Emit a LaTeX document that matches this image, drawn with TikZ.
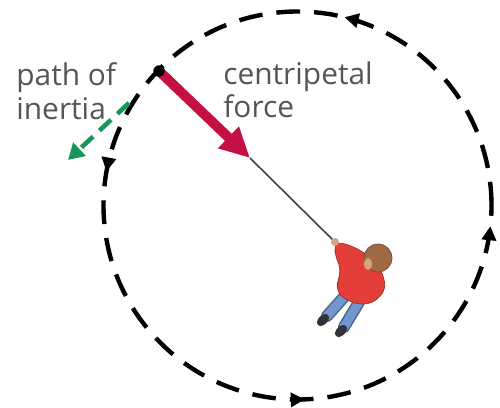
\documentclass[tikz,border=0pt]{standalone}
\usepackage{fontspec}
\setmainfont{Open Sans}
\usetikzlibrary{arrows.meta,decorations.markings}
\definecolor{forcered}{RGB}{196,16,66}
\definecolor{inertiagreen}{RGB}{22,150,92}
\definecolor{labelgray}{RGB}{85,85,85}
\definecolor{shirt}{RGB}{228,62,56}
\definecolor{jeans}{RGB}{112,150,205}
\definecolor{hair}{RGB}{160,105,70}
\definecolor{skin}{RGB}{210,165,125}
\definecolor{shoe}{RGB}{50,50,55}
\begin{document}
\begin{tikzpicture}[x=0.02cm,y=-0.02cm,
  orbit/.style={line width=2.5pt, dash pattern=on 13.5pt off 8pt,
    postaction={decorate},
    decoration={markings,
      mark=at position 0.211 with {\arrow{Triangle[length=8pt,width=8pt]}},
      mark=at position 0.472 with {\arrow{Triangle[length=8pt,width=8pt]}},
      mark=at position 0.756 with {\arrow{Triangle[length=8pt,width=8pt]}},
      mark=at position 0.983 with {\arrow{Triangle[length=8pt,width=8pt]}}}},
  caption/.style={font=\fontsize{17}{19.3}\selectfont, text=labelgray,
    align=left, inner sep=0pt, anchor=north west},
  force/.style={forcered, line width=5.6pt, -{Triangle[length=17pt,width=16pt]}},
  inertia/.style={inertiagreen, line width=2.6pt, dash pattern=on 9pt off 5pt,
    -{Triangle[length=9pt,width=10pt]}},
  rope/.style={black!75, line width=0.9pt},
]
\useasboundingbox (0,0) rectangle (500,408);

% circular path, travelled anticlockwise
\draw[orbit] (491.5,205.5) arc[start angle=0, end angle=-360, radius=194];

% ball on its string
\coordinate (bc) at (159,71);
\coordinate (tip) at (250,158);
\coordinate (hand) at (335,242);
\coordinate (gstart) at (129,103);
\coordinate (gend) at (68,160);

\draw[rope] (tip) -- (hand);
\draw[force] (bc) -- (tip);
\node[circle, fill=black, inner sep=0pt, minimum size=6.5pt] (ball) at (bc) {};
\draw[inertia] (gstart) -- (gend);

% person seen from above
\draw[jeans!65!black, line width=6.8pt, line cap=round] (344,297) -- (327,316) (359,302) -- (344,327);
\draw[jeans, line width=5.2pt, line cap=round] (344,297) -- (327,316) (359,302) -- (344,327);
\fill[shoe, rotate around={45:(323,320)}] (323,320) ellipse (7 and 4.5);
\fill[shoe, rotate around={45:(341,331)}] (341,331) ellipse (7 and 4.5);
\filldraw[fill=shirt, draw=shirt!70!black, line width=0.4pt, rounded corners=4pt]
  (335,242) -- (350,245) -- (368,255) -- (382,271) -- (386,289) -- (375,302)
  -- (360,305) -- (344,299) -- (336,290) -- (341,268) -- (335,256) -- cycle;
\fill[skin] (hand) circle (4);
\filldraw[fill=hair, draw=hair!70!black, line width=0.4pt] (378,258) circle (14);
\fill[skin] (368,264) ellipse (4 and 6);

% labels
\node[caption] (lbl1) at (16,62) {path of\\inertia};
\node[caption] (lbl2) at (223,61) {centripetal\\force};
\end{tikzpicture}
\end{document}
